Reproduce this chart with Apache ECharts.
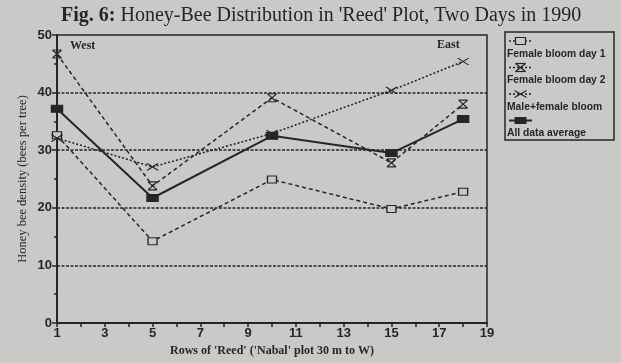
<!DOCTYPE html>
<html><head><meta charset="utf-8">
<script src="https://cdn.jsdelivr.net/npm/echarts@6/dist/echarts.min.js"></script>
<style>html,body{margin:0;padding:0;background:#c9c9c7;}#c{width:621px;height:363px;}</style>
</head><body><div id="c"></div>
<script>
const rows = [1, 5, 10, 15, 18];
const femaleDay1 = [32.6, 14.2, 24.9, 19.8, 22.8];
const femaleDay2 = [46.7, 23.8, 39.1, 27.8, 38.0];
const maleFemale = [32.1, 27.1, 32.9, 40.4, 45.4];
const allAverage = [37.2, 21.7, 32.5, 29.5, 35.4];
const seriesNames = ['Female bloom day 1', 'Female bloom day 2', 'Male+female bloom', 'All data average'];
const titleBold = 'Fig. 6:';
const titleRest = "Honey-Bee Distribution in 'Reed' Plot, Two Days in 1990";
const xName = "Rows of 'Reed' ('Nabal' plot 30 m to W)";
const yName = 'Honey bee density (bees per tree)';

const BG = '#c9c9c7', INK = '#262626';
const pathHour = 'path://M0,0L10,0M0,10L10,10M0,0L10,10M10,0L0,10';
const pathX = 'path://M0,0L10,10M10,0L0,10';

function pairs(v){ return rows.map((r,i)=>[r, v[i]]); }

const styles = [
  {symbol:'rect', size:[9,7], fill:BG, line:{type:[4,3], width:1.5}},
  {symbol:pathHour, size:[9,8], fill:BG, line:{type:[4,3], width:1.5}},
  {symbol:pathX, size:[11,7], fill:BG, line:{type:[2,2], width:1.6}},
  {symbol:'rect', size:[11,7], fill:INK, line:{type:'solid', width:2}}
];
const datas = [femaleDay1, femaleDay2, maleFemale, allAverage];

const chart = echarts.init(document.getElementById('c'), null, {renderer:'canvas'});

const legendGraphics = [{
  type:'rect', shape:{x:505, y:32, width:109, height:108},
  style:{fill:'none', stroke:INK, lineWidth:1.5}
}];
function legendMarker(i, cx, cy){
  const s = {stroke:INK, lineWidth:1.2};
  if(i===0) return [{type:'rect', shape:{x:cx-5,y:cy-3.5,width:10,height:7}, style:{fill:BG, stroke:INK, lineWidth:1.2}, z:10}];
  if(i===3) return [{type:'rect', shape:{x:cx-6,y:cy-3.5,width:12,height:7}, style:{fill:INK}, z:10}];
  const w = i===1?5:6, h = i===1?4:3.5;
  const out = [
    {type:'line', shape:{x1:cx-w,y1:cy-h,x2:cx+w,y2:cy+h}, style:s, z:10},
    {type:'line', shape:{x1:cx+w,y1:cy-h,x2:cx-w,y2:cy+h}, style:s, z:10}
  ];
  if(i===1){
    out.push({type:'line', shape:{x1:cx-w,y1:cy-h,x2:cx+w,y2:cy-h}, style:s, z:10});
    out.push({type:'line', shape:{x1:cx-w,y1:cy+h,x2:cx+w,y2:cy+h}, style:s, z:10});
  }
  return out;
}
seriesNames.forEach((n,i)=>{
  const y = 41 + i*26.5;
  legendGraphics.push({type:'line', shape:{x1:509,y1:y,x2:532,y2:y},
    style:{stroke:INK, lineWidth:styles[i].line.width, lineDash: styles[i].line.type==='solid'?null:[2,2]}});
  legendGraphics.push(...legendMarker(i, 520.5, y));
  legendGraphics.push({type:'text', x:507, y:y+13, style:{text:n, fill:INK,
    font:'bold 10.3px "Liberation Sans", Arial, sans-serif', textVerticalAlign:'middle'}});
});

chart.setOption({
  backgroundColor: BG,
  animation:false,
  title:{
    text:'{b|'+titleBold+'} {r|'+titleRest+'}',
    left:61, top:6, padding:0,
    textStyle:{rich:{
      b:{fontFamily:'"Liberation Serif", serif', fontWeight:'bold', fontSize:20, color:INK},
      r:{fontFamily:'"Liberation Serif", serif', fontWeight:'normal', fontSize:20, color:INK}
    }}
  },
  grid:{left:57, right:134, top:35, bottom:40, show:true, borderColor:INK, borderWidth:1.5, backgroundColor:'transparent'},
  xAxis:{
    type:'value', min:1, max:19, interval:2,
    name:xName, nameLocation:'middle', nameGap:22, nameMoveOverlap:false,
    nameTextStyle:{fontFamily:'"Liberation Serif", serif', fontWeight:'bold', fontSize:12, color:INK},
    axisLine:{show:true, onZero:false, lineStyle:{color:INK, width:2}},
    axisTick:{show:true, length:4, lineStyle:{color:INK, width:1.5}},
    minorTick:{show:true, splitNumber:2, length:4, lineStyle:{color:INK, width:1.5}},
    axisLabel:{fontFamily:'"Liberation Sans Narrow","Liberation Sans", sans-serif', fontWeight:'bold', fontSize:13, color:INK, margin:4},
    splitLine:{show:false}
  },
  yAxis:{
    type:'value', min:0, max:50, interval:10,
    name:yName, nameLocation:'middle', nameGap:28, nameRotate:90, nameMoveOverlap:false,
    nameTextStyle:{fontFamily:'"Liberation Serif", serif', fontSize:12.5, color:INK},
    axisLine:{show:true, lineStyle:{color:INK, width:2}},
    axisTick:{show:true, length:5, lineStyle:{color:INK, width:1.5}},
    minorTick:{show:true, splitNumber:2, length:3, lineStyle:{color:INK, width:1.5}},
    axisLabel:{fontFamily:'"Liberation Sans Narrow","Liberation Sans", sans-serif', fontWeight:'bold', fontSize:13, color:INK, margin:5},
    splitLine:{show:true, showMinLine:false, showMaxLine:false, lineStyle:{color:INK, width:1.5, type:[3,1.5]}}
  },
  graphic:[
    {type:'text', x:70, y:46, style:{text:'West', fill:INK, font:'bold 12px "Liberation Serif", serif', textVerticalAlign:'middle'}},
    {type:'text', x:437, y:45, style:{text:'East', fill:INK, font:'bold 12px "Liberation Serif", serif', textVerticalAlign:'middle'}},
    ...legendGraphics
  ],
  series: datas.map((d,i)=>({
    name:seriesNames[i], type:'line', data:pairs(d),
    symbol:styles[i].symbol, symbolSize:styles[i].size, showSymbol:true,
    lineStyle:{color:INK, width:styles[i].line.width, type:styles[i].line.type},
    itemStyle:{color:styles[i].fill, borderColor:INK, borderWidth:1.2},
    z: i===3?5:3
  }))
});
</script></body></html>
